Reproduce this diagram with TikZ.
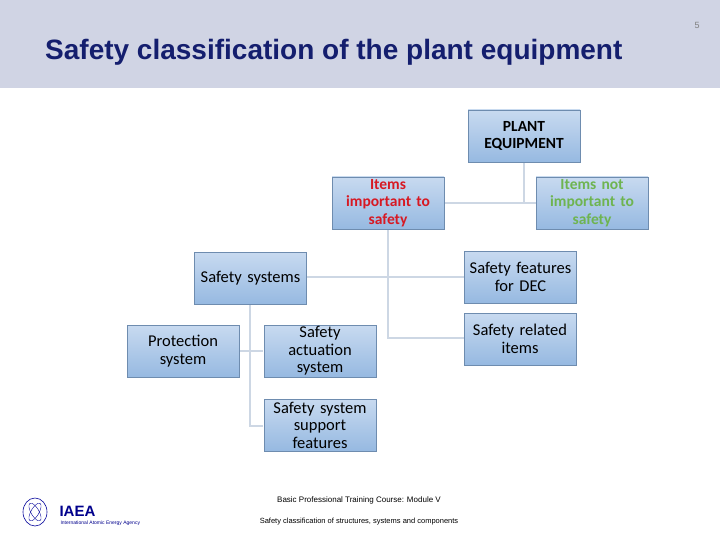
\documentclass[tikz,border=0pt]{standalone}
\usepackage{fontspec}
\setmainfont{Carlito}
\newfontfamily\arialf{Liberation Sans}
\definecolor{btop}{RGB}{200,218,240}
\definecolor{bbot}{RGB}{150,185,225}
\definecolor{bbord}{RGB}{110,140,175}
\definecolor{lnc}{RGB}{205,215,228}
\definecolor{hdr}{RGB}{208,212,228}
\definecolor{ttl}{RGB}{20,30,110}
\definecolor{grn}{RGB}{110,180,80}
\definecolor{rdd}{RGB}{215,25,35}
\begin{document}
\begin{tikzpicture}[x=1pt,y=-1pt,
  bx/.style={draw=bbord, line width=0.8pt, top color=btop, bottom color=bbot, minimum width=112pt, minimum height=52pt, align=center, inner sep=1pt, font=\fontsize{16.5}{17.5}\selectfont, text width=110pt},
  bxb/.style={bx, font=\bfseries\fontsize{15.5}{17.5}\selectfont},
  ln/.style={draw=lnc, line width=1.2pt}]
\useasboundingbox (0,0) rectangle (720,540);
\fill[hdr] (0,0) rectangle (720,88);
\node[anchor=west, inner sep=0pt, font=\arialf\bfseries\fontsize{28}{30}\selectfont, text=ttl] (title) at (45,52) {Safety classification of the plant equipment};
\node[font=\arialf\fontsize{9}{10}\selectfont, text=gray] (pg) at (697,25) {5};
\draw[ln] (524,162) -- (524,203);
\draw[ln] (444,203) -- (536,203);
\draw[ln] (388,229) -- (388,338) -- (464,338);
\draw[ln] (306,277) -- (464,277);
\draw[ln] (250,304) -- (250,426) -- (263,426);
\draw[ln] (240,351) -- (263,351);
\node[bxb] (pe) at (524,136) {PLANT\\EQUIPMENT};
\node[bxb, text=rdd] (iis) at (388,203) {Items\\important to\\safety};
\node[bxb, text=grn] (ini) at (592,203) {Items not\\important to\\safety};
\node[bx] (ss) at (250.5,278) {Safety systems};
\node[bx] (dec) at (520.5,277) {Safety features\\for DEC};
\node[bx] (sri) at (520,339) {Safety related\\items};
\node[bx] (ps) at (183,351) {Protection\\system};
\node[bx] (sas) at (320,351) {Safety\\actuation\\system};
\node[bx] (ssf) at (320,425) {Safety system\\support\\features};
% footer
\draw[blue!60!black, line width=0.6pt] (35,512) ellipse (12 and 14);
\draw[blue!60!black, line width=0.4pt, rotate around={30:(35,512)}] (35,512) ellipse (4 and 10);
\draw[blue!60!black, line width=0.4pt, rotate around={-30:(35,512)}] (35,512) ellipse (4 and 10);
\node[anchor=west, font=\arialf\bfseries\fontsize{15}{16}\selectfont, text=blue!55!black] (iaea) at (56,511) {IAEA};
\node[anchor=west, font=\arialf\fontsize{5}{6}\selectfont, text=blue!55!black] (iaea2) at (57,523) {International Atomic Energy Agency};
\node[font=\arialf\fontsize{8}{9}\selectfont] (f1) at (359,500) {Basic Professional Training Course: Module V};
\node[font=\arialf\fontsize{7.5}{9}\selectfont] (f2) at (359,522) {Safety classification of structures, systems and components};
\end{tikzpicture}
\end{document}
